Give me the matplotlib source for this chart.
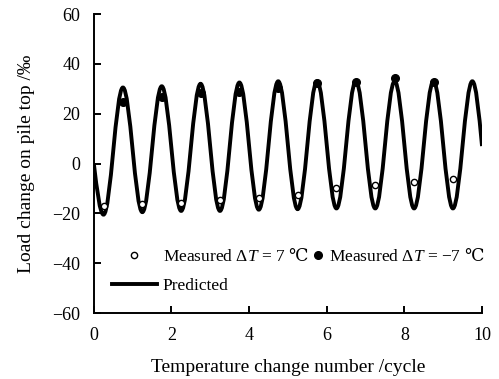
import numpy as np
import matplotlib
matplotlib.use("Agg")
import matplotlib.pyplot as plt
from matplotlib.path import Path
from matplotlib.patches import PathPatch
from matplotlib.lines import Line2D

plt.rcParams['font.family'] = ['Liberation Serif', 'DejaVu Serif']
plt.rcParams['mathtext.fontset'] = 'custom'
plt.rcParams['mathtext.rm'] = 'Liberation Serif'
plt.rcParams['mathtext.it'] = 'Liberation Serif:italic'
plt.rcParams['mathtext.sf'] = 'DejaVu Serif'   # used only for the degree-Celsius sign

# ---- data ----
# predicted curve: start, alternating trough/peak extrema, end
pred_x = [0.0, 0.25, 0.75, 1.25, 1.75, 2.25, 2.75, 3.25, 3.75, 4.25, 4.75,
          5.25, 5.75, 6.25, 6.75, 7.25, 7.75, 8.25, 8.75, 9.25, 9.75, 10.0]
pred_y = [0.0, -20.5, 30.5, -19.5, 31.0, -19.0, 32.0, -19.0, 32.5, -18.5, 33.0,
          -18.3, 33.0, -18.0, 33.0, -18.0, 33.0, -18.0, 33.0, -18.0, 33.0, 7.0]

# measured, dT = +7 C (troughs)
heat_x = [0.25, 1.25, 2.25, 3.25, 4.25, 5.25, 6.25, 7.25, 8.25, 9.25]
heat_y = [-17.0, -16.3, -16.0, -14.7, -13.7, -12.8, -10.0, -8.5, -7.3, -6.3]

# measured, dT = -7 C (peaks)
cool_x = [0.75, 1.75, 2.75, 3.75, 4.75, 5.75, 6.75, 7.75, 8.75]
cool_y = [24.5, 26.8, 28.3, 28.8, 30.3, 32.2, 32.7, 34.2, 32.7]

# ---- figure ----
fig = plt.figure(figsize=(4.99, 3.79), dpi=100)
ax = fig.add_axes([0.188, 0.174, 0.778, 0.789])

# smooth predicted curve: cubic Bezier segments through the extrema
verts = [(pred_x[0], pred_y[0])]
codes = [Path.MOVETO]
n = len(pred_x)
for i in range(n - 1):
    x0, y0, x1, y1 = pred_x[i], pred_y[i], pred_x[i + 1], pred_y[i + 1]
    dx = x1 - x0
    if i == 0:                      # steep start -> flat extremum
        p1 = (x0 + dx / 3, y0 + (y1 - y0) * 0.5236)
        p2 = (x1 - dx * 0.3642, y1)
    elif i == n - 2:                # flat extremum -> steep end
        p1 = (x0 + dx * 0.3642, y0)
        p2 = (x1 - dx / 3, y1 - (y1 - y0) * 0.5236)
    else:                           # half cosine between extrema
        p1 = (x0 + dx * 0.3642, y0)
        p2 = (x1 - dx * 0.3642, y1)
    verts += [p1, p2, (x1, y1)]
    codes += [Path.CURVE4] * 3
ax.add_patch(PathPatch(Path(verts, codes), fill=False, edgecolor="black",
                       lw=2.8, capstyle="butt", zorder=2))

ax.plot(heat_x, heat_y, "o", ms=4.5, mfc="white", mec="black", mew=1.0, zorder=3)
ax.plot(cool_x, cool_y, "o", ms=5.5, mfc="black", mec="black", zorder=3)

ax.set_xlim(0, 10)
ax.set_ylim(-60, 60)
ax.set_xticks([0, 2, 4, 6, 8, 10])
ax.set_yticks([-60, -40, -20, 0, 20, 40, 60])
ax.set_yticklabels(["\u221260", "\u221240", "\u221220", "0", "20", "40", "60"])
for s in ["top", "right"]:
    ax.spines[s].set_visible(False)
for s in ["left", "bottom"]:
    ax.spines[s].set_linewidth(1.4)
ax.tick_params(axis="both", direction="in", length=5, width=1.4, labelsize=13)
ax.tick_params(axis="y", pad=9.5)
ax.tick_params(axis="x", pad=10)

ax.set_xlabel("Temperature change number /cycle", fontsize=14, labelpad=10.5)
ax.set_ylabel("Load change on pile top /\u2030", fontsize=14, labelpad=13)

# legends
h_open = Line2D([], [], ls="none", marker="o", ms=4.5, mfc="white", mec="black", mew=1.0)
h_line = Line2D([], [], color="black", lw=2.8)
h_fill = Line2D([], [], ls="none", marker="o", ms=5.5, mfc="black", mec="black")
leg1 = ax.legend([h_open, h_line],
                 ["Measured \u0394$T$ = 7 $\\mathsf{\u2103}$", "Predicted"],
                 loc="upper left", bbox_to_anchor=(0.046, 0.217), frameon=False,
                 fontsize=12.5, handlelength=2.6, handletextpad=0.35,
                 labelspacing=0.75, borderpad=0, borderaxespad=0)
ax.add_artist(leg1)
ax.legend([h_fill], ["Measured \u0394$T$ = \u22127 $\\mathsf{\u2103}$"],
          loc="upper left", bbox_to_anchor=(0.564, 0.217), frameon=False,
          fontsize=12.5, handlelength=0.6, handletextpad=0.33,
          borderpad=0, borderaxespad=0)

fig.savefig("out.png", dpi=100)
